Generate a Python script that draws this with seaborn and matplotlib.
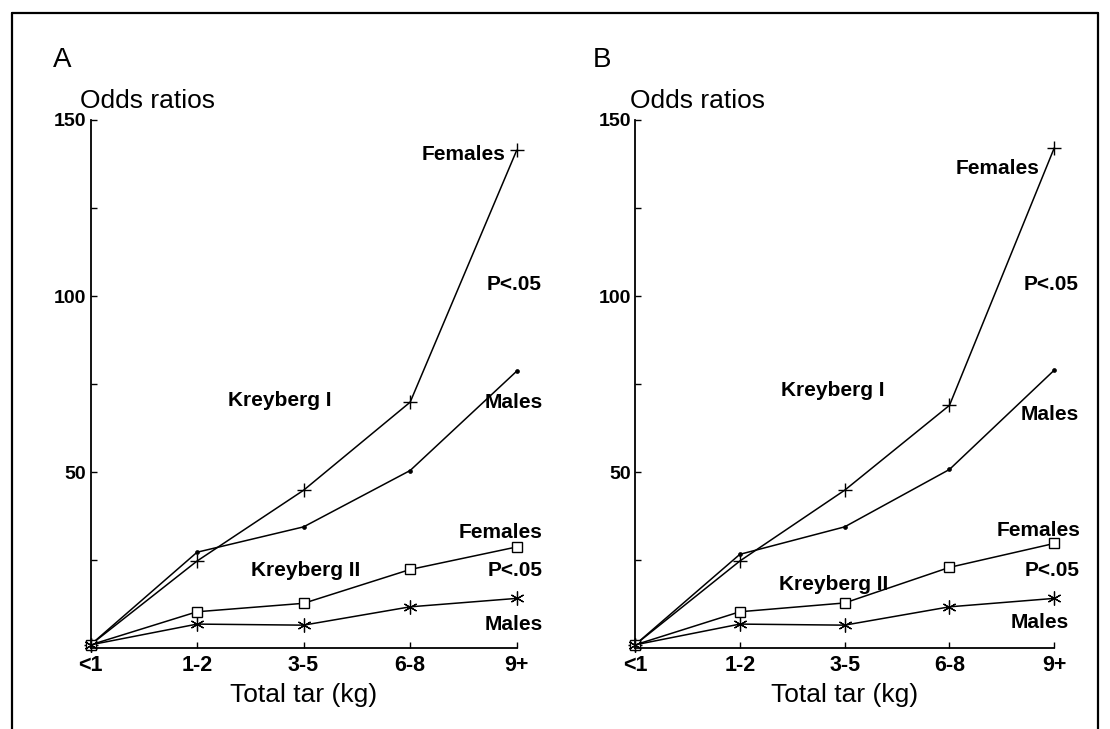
import matplotlib
matplotlib.use("Agg")
import matplotlib.pyplot as plt
from matplotlib.lines import Line2D
import seaborn as sns
import pandas as pd

# ---------------- data ----------------
categories = ["<1", "1-2", "3-5", "6-8", "9+"]

# Panel A
k1_females_A = [1.0, 24.8, 44.9, 69.9, 141.4]
k1_males_A = [1.0, 27.3, 34.5, 50.5, 78.7]
k2_females_A = [1.0, 10.4, 12.8, 22.4, 28.8]
k2_males_A = [1.0, 6.9, 6.6, 11.8, 14.2]

# Panel B
k1_females_B = [1.0, 24.8, 44.9, 69.0, 142.1]
k1_males_B = [1.0, 26.7, 34.5, 50.8, 79.0]
k2_females_B = [1.0, 10.4, 12.9, 23.0, 29.8]
k2_males_B = [1.0, 6.9, 6.6, 11.8, 14.2]

panel_letters = ["A", "B"]
ylabel_text = "Odds ratios"
xlabel_text = "Total tar (kg)"
major_yticks = [50, 100, 150]
minor_yticks = [25, 75, 125]

# ---------------- style ----------------
sns.set_theme(style="white")
plt.rcParams["font.family"] = ["Liberation Sans", "DejaVu Sans"]

W, H = 1110, 729
fig = plt.figure(figsize=(W / 100, H / 100), dpi=100)
fig.patch.set_facecolor("white")

def fx(px):
    return px / W

def fy(py):
    return 1 - py / H

panels = [
    dict(x0=90.5, x1=516.7, letter_x=53, ylab_x=80,
         series=[k1_females_A, k1_males_A, k2_females_A, k2_males_A],
         xlab_frac=0.5,
         notes=[("Females", 464, 154), ("P<.05", 514, 285), ("Kreyberg I", 280, 401),
                ("Males", 514, 402), ("Females", 501, 532), ("Kreyberg II", 306, 571),
                ("P<.05", 515, 571), ("Males", 514, 625)]),
    dict(x0=635.0, x1=1054.3, letter_x=593, ylab_x=630,
         series=[k1_females_B, k1_males_B, k2_females_B, k2_males_B],
         xlab_frac=0.5,
         notes=[("Females", 998, 168), ("P<.05", 1051, 285), ("Kreyberg I", 833, 390),
                ("Males", 1050, 414), ("Females", 1039, 531), ("Kreyberg II", 834, 584),
                ("P<.05", 1052, 570), ("Males", 1040, 622)]),
]
y_top, y_bot = 120.0, 648.4

marker_styles = [
    dict(marker="+", markersize=10, markeredgewidth=1.0, markerfacecolor="black"),
    dict(marker="o", markersize=2.8, markeredgewidth=0.5, markerfacecolor="black"),
    dict(marker="s", markersize=7.5, markeredgewidth=1.0, markerfacecolor="white"),
    dict(marker=(6, 2, 0), markersize=10, markeredgewidth=0.9, markerfacecolor="black"),
]

for p, letter in zip(panels, panel_letters):
    ax = fig.add_axes([fx(p["x0"]), fy(y_bot), (p["x1"] - p["x0"]) / W, (y_bot - y_top) / H])
    ax.set_facecolor("white")
    for vals, ms in zip(p["series"], marker_styles):
        df = pd.DataFrame({"tar": categories, "odds": vals})
        sns.lineplot(data=df, x="tar", y="odds", ax=ax, color="black", linewidth=1.1,
                     markeredgecolor="black", clip_on=False, sort=False, **ms)
    ax.set_xlim(0, len(categories) - 1)
    ax.set_ylim(0, 150)
    for s in ["top", "right"]:
        ax.spines[s].set_visible(False)
    for s in ["left", "bottom"]:
        ax.spines[s].set_color("black")
        ax.spines[s].set_linewidth(1.3)
    ax.spines["left"].set_bounds(0, 150)
    ax.set_yticks(major_yticks)
    ax.set_yticklabels([str(v) for v in major_yticks])
    ax.set_yticks(minor_yticks, minor=True)
    ax.tick_params(axis="both", which="both", direction="in", length=4.5, width=1.0,
                   color="black", left=True, bottom=True)
    ax.tick_params(axis="y", which="major", pad=3, labelsize=14)
    ax.tick_params(axis="x", which="major", pad=5, labelsize=15.5)
    for lab in ax.get_xticklabels() + ax.get_yticklabels():
        lab.set_fontweight("bold")
        lab.set_color("black")
    ax.set_ylabel("")
    ax.set_xlabel(xlabel_text, fontsize=19, color="black")
    ax.xaxis.set_label_coords(p["xlab_frac"], -0.066)
    ax.xaxis.label.set_va("top")
    ax.grid(False)

    fig.text(fx(p["letter_x"]), fy(67), letter, fontsize=20, ha="left", va="baseline", color="black")
    fig.text(fx(p["ylab_x"]), fy(108), ylabel_text, fontsize=19, ha="left", va="baseline", color="black")
    for txt, px, py in p["notes"]:
        fig.text(fx(px), fy(py), txt, fontsize=15, fontweight="bold", ha="center", va="center",
                 color="black")

# outer frame
lw = 1.6
fig.add_artist(Line2D([fx(12), fx(1098)], [fy(13), fy(13)], color="black", lw=lw))
fig.add_artist(Line2D([fx(12), fx(12)], [fy(13), 0], color="black", lw=lw))
fig.add_artist(Line2D([fx(1098), fx(1098)], [fy(13), 0], color="black", lw=lw))

fig.savefig("out.png", dpi=100, facecolor="white")
